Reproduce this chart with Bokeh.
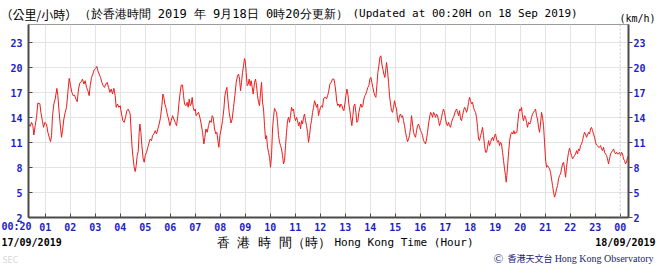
from bokeh.plotting import figure
from bokeh.models import LinearAxis, FixedTicker, Span, Range1d
from bokeh.core.properties import value
from bokeh.embed import file_html
from bokeh.resources import INLINE

# ---- data: wind speed (km/h), Hong Kong time in hours since 00:00 17/09/2019 ----
hours_a = [0.348, 0.401, 0.455, 0.508, 0.548, 0.601, 0.655, 0.708, 0.788, 0.828,
           0.895, 0.935, 0.988, 1.055, 1.108, 1.161, 1.215, 1.255, 1.295, 1.348,
           1.401, 1.468, 1.508, 1.548, 1.601, 1.655, 1.695, 1.748, 1.801, 1.855,
           1.908, 1.961, 2.015, 2.068, 2.121, 2.175, 2.228, 2.281, 2.335, 2.388,
           2.441, 2.495, 2.548, 2.601, 2.655, 2.708, 2.761, 2.801, 2.855, 2.908,
           2.961, 3.015, 3.068, 3.108, 3.161, 3.215, 3.268, 3.321, 3.375, 3.428,
           3.481, 3.535, 3.588, 3.641, 3.695, 3.748, 3.801, 3.841, 3.895, 3.948,
           4.001, 4.055, 4.108, 4.161, 4.215, 4.268, 4.321, 4.375]
speed_a = [13.24, 12.96, 13.44, 13.04, 11.92, 13.04, 14.04, 15.76, 15.68, 14.64,
           13.52, 12.84, 13.44, 13.24, 12.24, 11.64, 11.12, 11.84, 14.24, 15.64,
           16.24, 17.52, 16.64, 15.04, 13.24, 11.64, 12.44, 13.84, 14.64, 15.24,
           17.04, 18.72, 17.84, 17.04, 16.64, 16.72, 16.24, 15.92, 17.44, 18.16,
           18.32, 18.64, 18.04, 18.44, 17.64, 17.24, 16.64, 17.84, 18.84, 19.24,
           19.76, 19.92, 20.16, 19.64, 19.24, 18.84, 18.24, 17.84, 17.64, 18.04,
           18.24, 17.64, 17.04, 17.44, 16.84, 17.52, 16.64, 15.24, 15.64, 15.24,
           15.44, 14.44, 13.64, 13.44, 14.04, 14.84, 15.04, 14.64]

hours_b = [4.401, 4.441, 4.481, 4.521, 4.561, 4.601, 4.641, 4.681, 4.721, 4.761,
           4.788, 4.828, 4.868, 4.921, 4.961, 5.001, 5.055, 5.108, 5.161, 5.201,
           5.255, 5.295, 5.348, 5.401, 5.455, 5.508, 5.561, 5.615, 5.668, 5.708,
           5.748, 5.788, 5.828, 5.881, 5.935, 5.988, 6.041, 6.095, 6.148, 6.201,
           6.255, 6.308, 6.348, 6.401, 6.441, 6.495, 6.535, 6.575, 6.628, 6.681,
           6.721, 6.761, 6.801, 6.841, 6.881, 6.921, 6.961, 7.001, 7.041, 7.081,
           7.135, 7.188, 7.241, 7.295, 7.348, 7.388, 7.428, 7.481, 7.535, 7.588,
           7.641, 7.681, 7.721, 7.775, 7.828, 7.868, 7.908, 7.948, 7.988, 8.041,
           8.095, 8.148, 8.188, 8.228, 8.268, 8.308, 8.361, 8.415]
speed_b = [14.44, 12.24, 10.24, 9.04, 8.04, 7.52, 8.24, 9.44, 9.92, 12.24,
           13.24, 12.24, 10.64, 9.04, 8.64, 9.44, 9.84, 10.44, 11.04, 11.44,
           11.24, 11.84, 12.04, 12.44, 12.04, 12.64, 13.24, 14.04, 15.44, 16.84,
           16.44, 15.64, 15.24, 14.44, 13.84, 13.04, 13.64, 14.24, 13.84, 13.44,
           13.04, 14.24, 15.64, 17.04, 17.92, 17.92, 16.64, 15.64, 15.44, 15.84,
           15.24, 16.24, 15.44, 15.64, 16.44, 15.24, 14.84, 15.04, 14.24, 14.44,
           14.64, 14.04, 13.24, 12.24, 10.84, 11.64, 12.64, 12.24, 13.04, 13.64,
           13.44, 14.24, 14.04, 12.64, 12.04, 12.24, 11.24, 10.44, 11.84, 12.64,
           13.64, 15.04, 16.64, 17.24, 17.64, 16.24, 14.64, 13.64]

hours_c = [8.428, 8.481, 8.535, 8.588, 8.641, 8.695, 8.735, 8.775, 8.815, 8.855,
           8.895, 8.935, 8.975, 9.001, 9.041, 9.081, 9.121, 9.161, 9.201, 9.241,
           9.281, 9.321, 9.375, 9.415, 9.455, 9.495, 9.535, 9.575, 9.615, 9.655,
           9.695, 9.735, 9.775, 9.815, 9.855, 9.895, 9.935, 9.975, 10.015, 10.055,
           10.095, 10.135, 10.175, 10.215, 10.255, 10.295, 10.335, 10.375, 10.415, 10.455,
           10.495, 10.535, 10.575, 10.615, 10.655, 10.695, 10.735, 10.775, 10.815, 10.855,
           10.895, 10.935, 10.975, 11.015, 11.055, 11.095, 11.135, 11.175, 11.215, 11.255,
           11.295, 11.335, 11.375, 11.415, 11.455, 11.495, 11.535, 11.575, 11.615, 11.655,
           11.695, 11.735, 11.775, 11.815, 11.855, 11.895, 11.935, 11.975, 12.015, 12.055,
           12.095, 12.135, 12.175, 12.215, 12.255, 12.295, 12.335, 12.388]
speed_c = [13.36, 13.84, 15.24, 16.64, 18.24, 19.04, 19.24, 18.64, 17.24, 18.24,
           19.44, 20.24, 21.12, 20.84, 19.44, 17.84, 18.04, 18.64, 17.84, 18.44,
           17.64, 16.84, 18.24, 18.64, 17.84, 16.64, 15.84, 15.44, 17.04, 18.24,
           15.84, 15.04, 13.04, 11.44, 11.84, 10.44, 9.84, 9.24, 8.04, 9.44,
           12.64, 14.04, 15.12, 14.84, 14.64, 13.44, 11.84, 11.04, 10.64, 10.24,
           9.44, 8.44, 8.84, 10.64, 12.24, 13.64, 14.04, 13.44, 14.24, 15.24,
           14.84, 15.04, 14.04, 13.64, 14.04, 13.64, 13.04, 13.44, 12.64, 13.64,
           13.24, 14.04, 14.44, 13.64, 13.04, 12.24, 11.04, 11.84, 13.04, 13.64,
           14.64, 15.24, 16.04, 15.64, 15.24, 15.64, 14.24, 14.84, 15.24, 15.44,
           15.24, 16.24, 16.44, 16.44, 16.24, 16.64, 17.04, 18.04]

hours_d = [12.441, 12.495, 12.548, 12.588, 12.628, 12.668, 12.708, 12.748, 12.788, 12.828,
           12.868, 12.908, 12.948, 12.988, 13.028, 13.068, 13.108, 13.148, 13.188, 13.228,
           13.268, 13.308, 13.348, 13.388, 13.428, 13.468, 13.508, 13.548, 13.588, 13.628,
           13.668, 13.708, 13.748, 13.788, 13.828, 13.868, 13.908, 13.948, 13.988, 14.028,
           14.068, 14.108, 14.148, 14.188, 14.228, 14.268, 14.308, 14.348, 14.388, 14.428,
           14.468, 14.508, 14.548, 14.588, 14.628, 14.655, 14.695, 14.735, 14.775, 14.815,
           14.855, 14.895, 14.935, 14.975, 15.015, 15.055, 15.095, 15.135, 15.175, 15.215,
           15.255, 15.295, 15.335, 15.375, 15.415, 15.455, 15.495, 15.535, 15.575, 15.615,
           15.655, 15.695, 15.735, 15.775, 15.815, 15.855, 15.895, 15.935, 15.975, 16.015,
           16.055, 16.095, 16.135, 16.175, 16.215, 16.255, 16.295, 16.335, 16.388]
speed_d = [18.24, 18.64, 18.64, 18.04, 17.04, 15.84, 15.44, 15.64, 15.24, 15.64,
           15.44, 15.04, 14.84, 15.64, 16.64, 17.44, 16.84, 15.64, 14.84, 13.84,
           13.04, 14.24, 15.44, 15.64, 14.64, 13.44, 13.64, 14.64, 15.24, 15.64,
           15.24, 15.44, 16.24, 16.64, 16.84, 17.24, 17.64, 17.84, 18.64, 18.84,
           18.24, 17.64, 17.04, 16.64, 16.44, 17.84, 19.44, 20.24, 21.24, 21.44,
           20.44, 19.84, 19.24, 18.84, 19.84, 20.64, 19.64, 18.24, 16.64, 15.64,
           14.84, 14.64, 15.24, 16.04, 15.44, 15.04, 13.84, 13.44, 14.24, 14.44,
           14.04, 14.24, 13.64, 13.04, 12.24, 11.64, 11.12, 11.44, 11.84, 12.84,
           14.24, 13.24, 12.24, 11.84, 11.64, 12.44, 13.04, 13.24, 12.84, 12.44,
           12.24, 11.84, 11.24, 11.04, 10.84, 11.44, 12.24, 13.24, 14.24]

hours_e = [16.415, 16.455, 16.495, 16.535, 16.575, 16.615, 16.655, 16.695, 16.735, 16.775,
           16.815, 16.855, 16.895, 16.935, 16.975, 17.015, 17.055, 17.095, 17.135, 17.175,
           17.215, 17.255, 17.295, 17.335, 17.375, 17.415, 17.455, 17.495, 17.535, 17.575,
           17.615, 17.655, 17.695, 17.735, 17.775, 17.815, 17.855, 17.895, 17.935, 17.975,
           18.015, 18.055, 18.095, 18.135, 18.175, 18.215, 18.255, 18.295, 18.335, 18.375,
           18.415, 18.455, 18.495, 18.535, 18.575, 18.615, 18.655, 18.695, 18.735, 18.775,
           18.815, 18.855, 18.895, 18.935, 18.975, 19.015, 19.055, 19.095, 19.135, 19.175,
           19.215, 19.255, 19.295, 19.335, 19.375, 19.415, 19.441, 19.468, 19.508, 19.548,
           19.588, 19.628, 19.668, 19.708, 19.748, 19.788, 19.828, 19.868, 19.908, 19.948,
           19.988, 20.028, 20.055, 20.095, 20.135, 20.175, 20.215, 20.255, 20.295, 20.335,
           20.388]
speed_e = [14.64, 14.44, 14.04, 14.64, 14.44, 14.04, 14.44, 14.24, 13.64, 13.04,
           13.44, 14.04, 14.64, 15.04, 14.64, 13.84, 13.24, 13.04, 13.44, 13.04,
           12.84, 13.44, 13.84, 14.04, 14.44, 14.84, 15.04, 14.64, 14.24, 14.84,
           13.84, 13.64, 14.24, 14.84, 15.24, 15.04, 14.64, 15.04, 15.84, 16.44,
           16.04, 15.64, 15.84, 15.24, 14.84, 14.64, 14.04, 12.84, 11.44, 11.24,
           11.84, 12.24, 12.84, 11.84, 10.64, 9.84, 9.84, 10.44, 11.24, 10.64,
           11.04, 11.44, 11.64, 11.24, 11.84, 12.04, 11.44, 11.04, 11.24, 10.64,
           11.04, 10.84, 9.84, 8.84, 7.84, 7.04, 6.24, 7.04, 8.64, 10.24,
           11.44, 12.04, 12.24, 12.04, 12.44, 12.04, 12.24, 12.24, 13.44, 14.64,
           15.04, 14.84, 15.24, 14.04, 13.64, 14.24, 14.04, 13.44, 12.84, 13.44,
           13.24]

hours_f = [20.415, 20.455, 20.495, 20.535, 20.575, 20.615, 20.655, 20.695, 20.735, 20.775,
           20.815, 20.855, 20.895, 20.935, 20.975, 21.015, 21.055, 21.095, 21.135, 21.175,
           21.215, 21.255, 21.295, 21.335, 21.375, 21.415, 21.455, 21.495, 21.535, 21.575,
           21.615, 21.655, 21.695, 21.735, 21.775, 21.815, 21.855, 21.895, 21.935, 21.975,
           22.015, 22.055, 22.095, 22.135, 22.175, 22.215, 22.255, 22.295, 22.335, 22.375,
           22.415, 22.455, 22.495, 22.535, 22.575, 22.615, 22.655, 22.695, 22.735, 22.775,
           22.815, 22.855, 22.895, 22.935, 22.975, 23.015, 23.055, 23.095, 23.135, 23.175,
           23.215, 23.255, 23.295, 23.335, 23.375, 23.415, 23.455, 23.495, 23.535, 23.575,
           23.615, 23.655, 23.695, 23.735, 23.775, 23.815, 23.855, 23.895, 23.935, 23.975,
           24.015, 24.055, 24.095, 24.135, 24.175, 24.215, 24.255, 24.295, 24.335]
speed_f = [13.44, 14.04, 14.44, 14.64, 14.84, 15.04, 14.24, 13.84, 12.84, 12.24,
           13.24, 14.64, 14.04, 13.04, 11.04, 9.04, 8.04, 8.24, 8.04, 7.84,
           7.44, 6.64, 5.84, 5.04, 4.44, 4.84, 5.44, 5.84, 6.64, 7.04,
           7.24, 7.84, 8.44, 8.64, 7.84, 6.84, 8.04, 9.04, 9.84, 10.32,
           9.84, 9.44, 9.04, 9.24, 9.44, 9.64, 10.04, 9.64, 10.24, 10.04,
           10.64, 10.84, 11.24, 11.84, 12.24, 12.04, 11.64, 11.92, 12.24, 12.04,
           12.64, 12.84, 12.44, 12.04, 11.64, 11.04, 10.72, 10.64, 10.44, 10.44,
           10.64, 10.24, 10.04, 10.44, 9.84, 9.64, 9.44, 9.04, 8.44, 9.04,
           9.64, 9.84, 10.04, 10.24, 9.84, 9.64, 9.84, 9.64, 9.64, 9.84,
           9.44, 9.84, 9.64, 9.04, 8.84, 8.44, 8.64, 9.24, 9.44]

hour_ticks = list(range(1, 25))
hour_labels = ["01", "02", "03", "04", "05", "06", "07", "08", "09", "10", "11", "12",
               "13", "14", "15", "16", "17", "18", "19", "20", "21", "22", "23", "00"]
speed_ticks = [2, 5, 8, 11, 14, 17, 20, 23]

hours = hours_a + hours_b + hours_c + hours_d + hours_e + hours_f
speed = speed_a + speed_b + speed_c + speed_d + speed_e + speed_f
assert len(hours) == len(speed)

# ---- figure ----
W, H = 656, 265
FL, FR, FT, FB = 28, 628, 24, 217          # frame edges in canvas pixels
X0, X1 = 1 / 3, 24 + 1 / 3                 # 00:20 -> 00:20 next day
Y0, Y1 = 2, 25.2

p = figure(width=W, height=H, output_backend="svg", toolbar_location=None,
           x_range=Range1d(X0, X1), y_range=Range1d(Y0, Y1),
           min_border_left=FL, min_border_right=W - FR, min_border_top=FT,
           min_border_bottom=H - FB)
p.outline_line_color = "#9a9a9a"
p.outline_line_width = 1
p.background_fill_color = "white"
p.border_fill_color = "white"

TICK_FONT = "DejaVu Sans Mono"
TICK_COLOR = "#1e1ec8"
AXIS_COLOR = "#4a4a4a"

xa = p.xaxis[0]
xa.ticker = FixedTicker(ticks=hour_ticks)
xa.major_label_overrides = {h: lab for h, lab in zip(hour_ticks, hour_labels)}
xa.minor_tick_line_color = None
xa.major_tick_in = 4
xa.major_tick_out = 0
xa.major_tick_line_color = AXIS_COLOR
xa.axis_line_color = AXIS_COLOR
xa.axis_line_width = 2
xa.major_label_text_font = TICK_FONT
xa.major_label_text_font_style = "bold"
xa.major_label_text_font_size = "10px"
xa.major_label_text_color = TICK_COLOR
xa.major_label_standoff = 5

ya = p.yaxis[0]
yr = LinearAxis()
p.add_layout(yr, "right")
for ax, tin, tout, so in ((ya, 4, 0, 6), (yr, 0, 4, 1)):
    ax.ticker = FixedTicker(ticks=speed_ticks)
    ax.minor_tick_line_color = None
    ax.major_tick_in = tin
    ax.major_tick_out = tout
    ax.major_tick_line_color = AXIS_COLOR
    ax.axis_line_color = AXIS_COLOR
    ax.axis_line_width = 2
    ax.major_label_text_font = TICK_FONT
    ax.major_label_text_font_style = "bold"
    ax.major_label_text_font_size = "10px"
    ax.major_label_text_color = TICK_COLOR
    ax.major_label_standoff = so

p.xgrid.ticker = FixedTicker(ticks=hour_ticks[:-1])
p.ygrid.ticker = FixedTicker(ticks=speed_ticks[1:])
p.xgrid.grid_line_color = "#e3e3e3"
p.ygrid.grid_line_color = "#e3e3e3"
p.add_layout(Span(location=hour_ticks[-1], dimension="height", line_color="#c8c8c8",
                  line_dash="2 2", line_width=1))

p.line(hours, speed, line_color="#ee1c1c", line_width=1)


# ---- texts outside the frame: text glyphs on the overlay level (not clipped) ----
def dx(px):
    return X0 + (px - FL) * (X1 - X0) / (FR - FL)


def dy(py):
    return Y0 + (FB - py) * (Y1 - Y0) / (FB - FT)


def lab(px, py, text, font, size, color="black", style="normal", align="left"):
    p.text(x=[dx(px)], y=[dy(py)], text=[text], text_font=value(font),
           text_font_size=value(size), text_color=color, text_font_style=style,
           text_align=align, text_baseline="middle", level="overlay")


lab(0, 14, "（公里/小時）", "Noto Sans CJK TC", "12px")
lab(78, 13, "（於香港時間 2019 年 9月18日 0時20分更新）", "DejaVu Sans Mono", "12px")
lab(352, 13, "(Updated at 00:20H on 18 Sep 2019)", "DejaVu Sans Mono", "11px")
lab(655, 18, "(km/h)", "DejaVu Sans Mono", "10px", align="right")
lab(1, 226, "00:20", TICK_FONT, "10px", TICK_COLOR, "bold")
lab(1, 242, "17/09/2019", "DejaVu Sans Mono", "10px", style="bold")
lab(655, 242, "18/09/2019", "DejaVu Sans Mono", "10px", style="bold", align="right")
lab(216, 242, "香 港 時 間（時）", "DejaVu Sans Mono", "13px")
lab(334, 242, "Hong Kong Time (Hour)", "DejaVu Sans Mono", "11px")
lab(493, 258, "©", "Liberation Serif", "13px", "#23237a")
lab(507, 258, "香港天文台", "Noto Sans CJK TC", "9px", "#23237a")
lab(653, 258, "Hong Kong Observatory", "Liberation Serif", "10px", "#23237a",
    align="right")
lab(2, 260, "SEC", "DejaVu Sans", "8px", "#d8d8d8")

open("out.html", "w").write(file_html(p, INLINE))
